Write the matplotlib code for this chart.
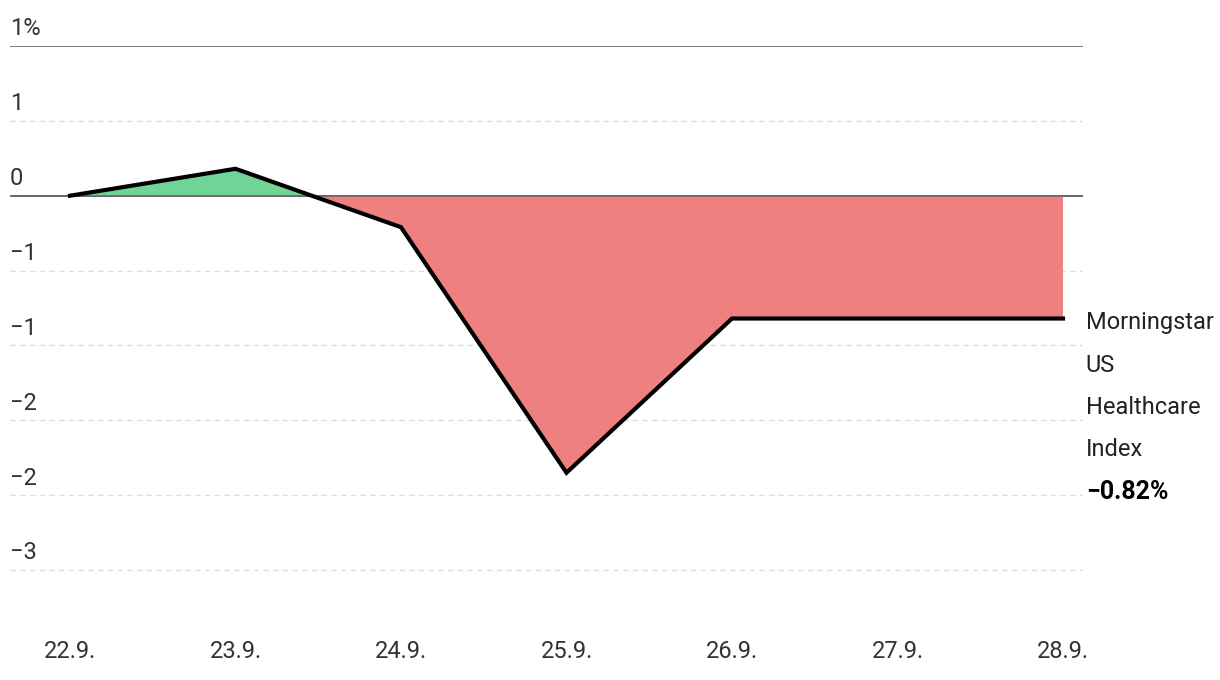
import matplotlib.pyplot as plt
import numpy as np

plt.rcParams['font.family'] = ['Liberation Sans Narrow', 'Roboto', 'DejaVu Sans']

dates = ['22.9.', '23.9.', '24.9.', '25.9.', '26.9.', '27.9.', '28.9.']
values = [0.0, 0.18, -0.21, -1.85, -0.82, -0.82, -0.82]
yticks = [1.0, 0.5, 0.0, -0.5, -1.0, -1.5, -2.0, -2.5]
ylabels = ['1%', '1', '0', '\u22121', '\u22121', '\u22122', '\u22122', '\u22123']
series_lines = ['Morningstar', 'US', 'Healthcare', 'Index']
last_label = '\u22120.82%'

W, H = 1220, 680
fig = plt.figure(figsize=(W / 100, H / 100), dpi=100)
ax = fig.add_axes([10 / W, 1 - 600 / H, (1083 - 10) / W, (600 - 46) / H])

x = np.arange(len(dates))
y = np.array(values)
px = 6 / (1063 - 70)
ax.set_xlim(-60 * px, 6 + 20 * px)
ax.set_ylim(-2.70, 1.0)

# grid
for t in yticks:
    if t in (0.0, 1.0):
        ax.axhline(t, color='#666666', lw=1.2, zorder=1)
    else:
        ax.axhline(t, color='#dddddd', lw=1, ls=(0, (4, 3)), zorder=1)

ax.fill_between(x, y, 0, where=y >= 0, interpolate=True, color='#72d396', zorder=2, lw=0)
ax.fill_between(x, y, 0, where=y <= 0, interpolate=True, color='#ef8080', zorder=2, lw=0)
ax.axhline(0, color='#666666', lw=1.2, zorder=3)
ax.plot(x, y, color='black', lw=3, zorder=4, solid_joinstyle='miter')

for side in ax.spines.values():
    side.set_visible(False)
ax.set_xticks([])
ax.set_yticks([])

# y labels above grid lines
for t, lab in zip(yticks, ylabels):
    ax.annotate(lab, xy=(0, t), xycoords=('axes fraction', 'data'),
                xytext=(0, 4), textcoords='offset points',
                ha='left', va='bottom', fontsize=17, color='#333333')

# x labels
x0, x1 = ax.get_xlim()
for xi, d in zip(x, dates):
    fig.text(10 / W + (xi - x0) / (x1 - x0) * (1073 / W),
             1 - 651 / H, d, ha='center', va='center', fontsize=17, color='#333333')

# end label
for i, line in enumerate(series_lines):
    ax.annotate(line, xy=(1, values[-1]), xycoords=('axes fraction', 'data'),
                xytext=(2, -3 - i * 30.5), textcoords='offset points',
                ha='left', va='center', fontsize=17, color='#222222',
                annotation_clip=False)
ax.annotate(last_label, xy=(1, values[-1]), xycoords=('axes fraction', 'data'),
            xytext=(2, -3 - 4 * 30.5), textcoords='offset points',
            ha='left', va='center', fontsize=18, fontweight='bold',
            color='black', annotation_clip=False)

fig.savefig('out.png', dpi=100)
